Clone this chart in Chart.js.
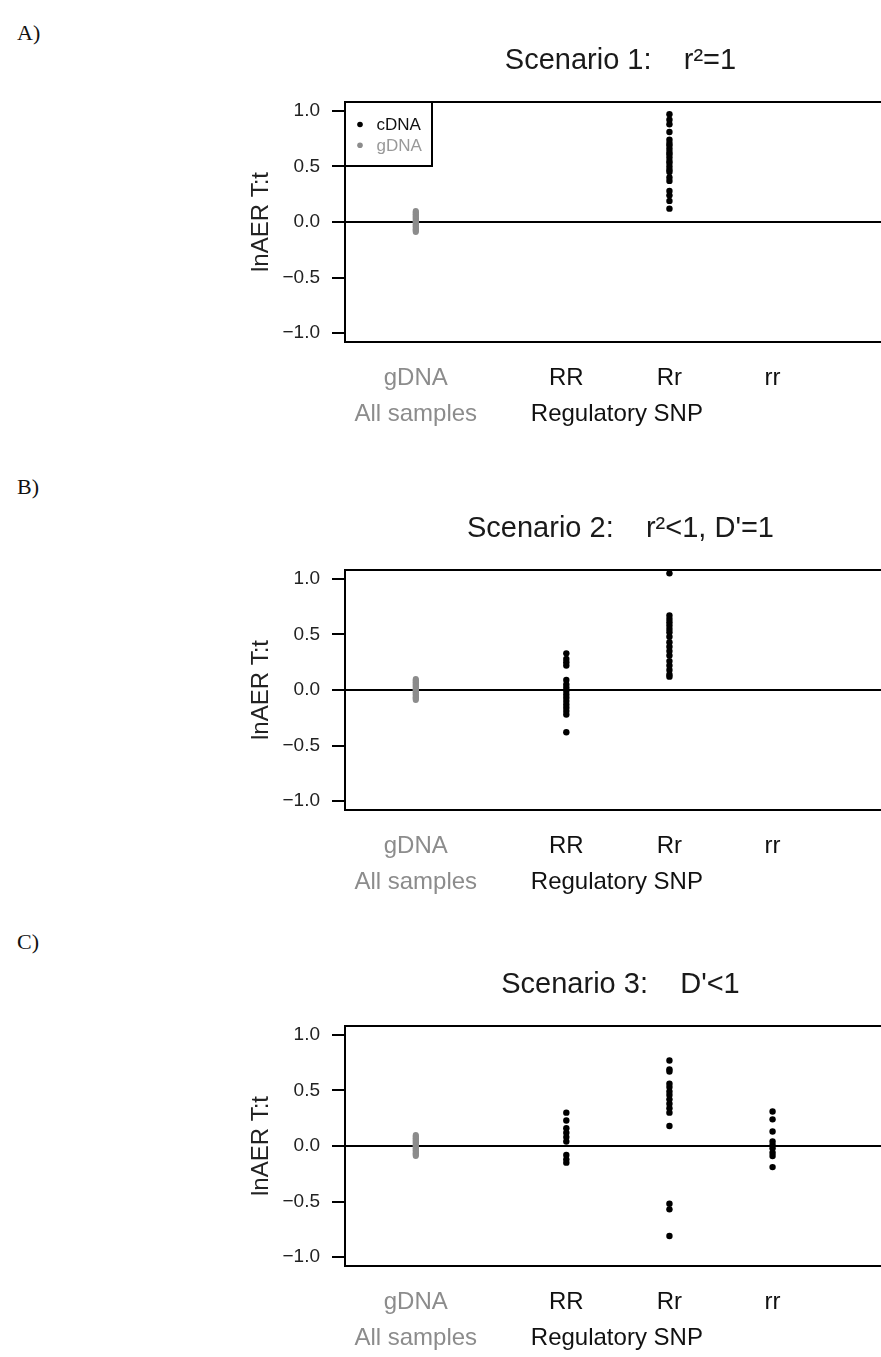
<!DOCTYPE html>
<html><head><meta charset="utf-8">
<script src="https://cdn.jsdelivr.net/npm/chart.js@4"></script>
<style>
html,body{margin:0;padding:0;overflow:hidden;background:#fff;width:881px;height:1357px;}
.panel{position:absolute;left:0;width:900px;height:430px;}
.panel canvas{display:block;}
.tag{position:absolute;left:17px;font-family:"Liberation Serif","Times New Roman",serif;font-size:22px;color:#111;line-height:22px;}
</style></head><body>
<div class="tag" style="top:22px">A)</div>
<div class="tag" style="top:476px">B)</div>
<div class="tag" style="top:931px">C)</div>
<div class="panel" style="top:0px"><canvas id="c0" width="900" height="430"></canvas></div>
<div class="panel" style="top:468px"><canvas id="c1" width="900" height="430"></canvas></div>
<div class="panel" style="top:924px"><canvas id="c2" width="900" height="430"></canvas></div>
<script>
// ---- data ----
const categories = ['gDNA', 'RR', 'Rr', 'rr'];
const catPos = [1, 2.46, 3.46, 4.46];
const groupLabels = ['All samples', 'Regulatory SNP'];
const groupLabelPos = [1, 2.95];
const yTicks = [-1, -0.5, 0, 0.5, 1];
const titles = ['Scenario 1:    r\u00B2=1', 'Scenario 2:    r\u00B2<1, D\'=1', 'Scenario 3:    D\'<1'];
const seriesNames = ['cDNA', 'gDNA'];

const gdnaValues = [0.10, 0.09, 0.085, 0.075, 0.07, 0.06, 0.05, 0.045, 0.035, 0.03, 0.02, 0.01, 0.005, 0.0, -0.01, -0.02, -0.025, -0.035, -0.04, -0.05, -0.06, -0.065, -0.075, -0.08, -0.09];

const s1RR = [];
const s1Rr = [0.97, 0.92, 0.88, 0.81, 0.74, 0.71, 0.69, 0.66, 0.63, 0.61, 0.58, 0.55, 0.53, 0.50, 0.47, 0.45, 0.40, 0.37, 0.28, 0.24, 0.19, 0.12];
const s1rr = [];

const s2RR = [0.33, 0.28, 0.25, 0.22, 0.09, 0.05, 0.02, -0.01, -0.04, -0.07, -0.10, -0.13, -0.16, -0.19, -0.22, -0.38];
const s2Rr = [1.05, 0.67, 0.64, 0.61, 0.58, 0.55, 0.52, 0.48, 0.43, 0.39, 0.35, 0.31, 0.26, 0.22, 0.18, 0.14, 0.12];
const s2rr = [];

const s3RR = [0.30, 0.23, 0.16, 0.12, 0.08, 0.04, -0.08, -0.12, -0.15];
const s3Rr = [0.77, 0.69, 0.67, 0.56, 0.53, 0.49, 0.46, 0.42, 0.38, 0.34, 0.30, 0.18, -0.52, -0.57, -0.81];
const s3rr = [0.31, 0.24, 0.13, 0.04, 0.01, -0.02, -0.06, -0.09, -0.19];

const scenarios = [[s1RR, s1Rr, s1rr], [s2RR, s2Rr, s2rr], [s3RR, s3Rr, s3rr]];

// ---- style ----
const FONT = '"Liberation Sans", Arial, Helvetica, sans-serif';
const BLACK = '#000000';
const GRAY = '#8c8c8c';
const TEXT = '#222222';
const H = 430, AREA_TOP = 102, AREA_BOTTOM = 342, AREA_LEFT = 345;
const xMin = 0.3137, xMax = 5.657;

const framePlugin = {
  id: 'frame',
  afterDraw(chart) {
    const {ctx, chartArea: a} = chart;
    ctx.save();
    ctx.strokeStyle = BLACK; ctx.lineWidth = 2;
    ctx.strokeRect(a.left, a.top, a.right - a.left, a.bottom - a.top);
    ctx.restore();
  }
};

const insetLegend = {
  id: 'insetLegend',
  afterDraw(chart, args, opts) {
    if (!opts.display) return;
    const {ctx, chartArea: a} = chart;
    ctx.save();
    ctx.strokeStyle = BLACK; ctx.lineWidth = 2;
    ctx.strokeRect(a.left, a.top, 87, 64);
    ctx.font = '17px ' + FONT;
    ctx.textBaseline = 'middle';
    ctx.textAlign = 'left';
    chart.data.datasets.forEach((ds, i) => {
      const y = a.top + 22.5 + i * 20.7;
      ctx.fillStyle = ds.backgroundColor;
      ctx.beginPath(); ctx.arc(a.left + 15, y, 2.8, 0, Math.PI * 2); ctx.fill();
      ctx.fillStyle = ds.legendTextColor;
      ctx.fillText(ds.label, a.left + 31.5, y + 1);
    });
    ctx.restore();
  }
};

function xLabel(v) {
  const out = [];
  const ci = catPos.indexOf(v);
  const gi = groupLabelPos.indexOf(v);
  out.push(ci >= 0 ? categories[ci] : '');
  if (gi >= 0) out.push(groupLabels[gi]);
  return out.length === 1 ? out[0] : out;
}

scenarios.forEach((groups, p) => {
  const cdna = [];
  groups.forEach((vals, g) => vals.forEach(v => cdna.push({x: catPos[g + 1], y: v})));
  const gdna = gdnaValues.map(v => ({x: catPos[0], y: v}));
  const tickVals = Array.from(new Set(catPos.concat(groupLabelPos))).sort((a, b) => a - b);

  new Chart(document.getElementById('c' + p), {
    type: 'scatter',
    data: {
      datasets: [
        {label: seriesNames[0], data: cdna, backgroundColor: BLACK, borderWidth: 0, pointRadius: 3.2, legendTextColor: '#111'},
        {label: seriesNames[1], data: gdna, backgroundColor: GRAY, borderWidth: 0, pointRadius: 3.0, legendTextColor: '#999999'}
      ]
    },
    options: {
      responsive: false,
      animation: false,
      devicePixelRatio: 1,
      layout: {padding: 0},
      plugins: {
        legend: {display: false},
        tooltip: {enabled: false},
        insetLegend: {display: p === 0},
        title: {
          display: true, text: titles[p], fullSize: false, color: '#1a1a1a',
          font: {family: FONT, size: 29, weight: 'normal', lineHeight: 1.2},
          padding: {top: 43.6, bottom: AREA_TOP - 43.6 - 34.8}
        }
      },
      scales: {
        x: {
          type: 'linear', min: xMin, max: xMax,
          afterBuildTicks: s => { s.ticks = tickVals.map(v => ({value: v})); },
          afterFit: s => { s.height = H - AREA_BOTTOM; },
          grid: {display: false, drawTicks: false},
          border: {display: true, color: BLACK, width: 2},
          ticks: {
            autoSkip: false, maxRotation: 0, minRotation: 0, padding: 18.3,
            font: {family: FONT, size: 24, lineHeight: 1.5},
            color: c => (c.tick && c.tick.value === catPos[0]) ? GRAY : '#111',
            callback: v => xLabel(v)
          }
        },
        y: {
          min: -1.08, max: 1.08,
          afterBuildTicks: s => { s.ticks = yTicks.map(v => ({value: v})); },
          afterFit: s => { s.width = AREA_LEFT; },
          border: {display: true, color: BLACK, width: 2},
          grid: {
            drawOnChartArea: true, drawTicks: true, tickLength: 13, lineWidth: 2,
            color: c => (c.tick && c.tick.value === 0) ? BLACK : 'rgba(0,0,0,0)',
            tickColor: BLACK
          },
          ticks: {
            padding: 12, color: TEXT,
            font: {family: FONT, size: 19},
            callback: v => (v < 0 ? '\u2212' : '') + Math.abs(v).toFixed(1)
          },
          title: {
            display: true, text: 'lnAER T:t', color: TEXT,
            font: {family: FONT, size: 24, lineHeight: 1.2},
            padding: {top: 246.6, bottom: 0}
          }
        }
      }
    },
    plugins: [framePlugin, insetLegend]
  });
});
</script>
</body></html>
